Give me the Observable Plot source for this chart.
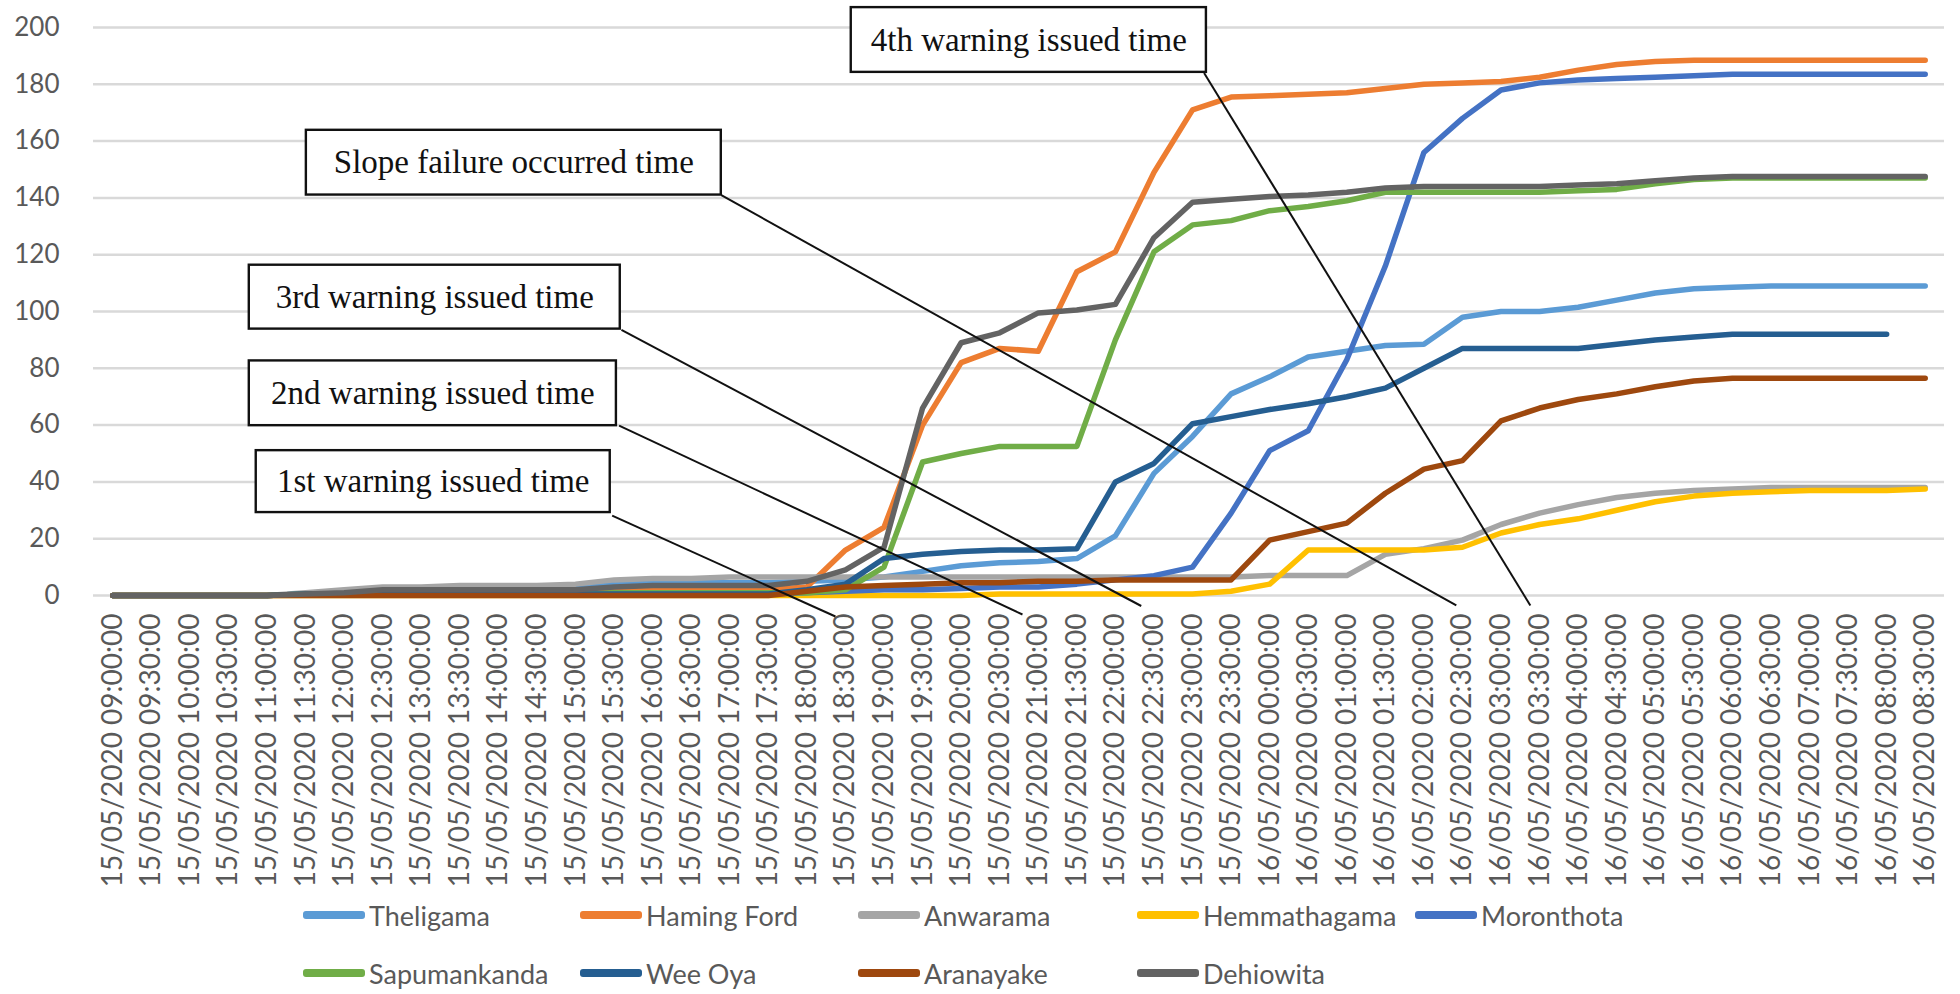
<!DOCTYPE html>
<html>
<head>
<meta charset="utf-8">
<script src="https://cdn.jsdelivr.net/npm/d3@7"></script>
<script src="https://cdn.jsdelivr.net/npm/@observablehq/plot@0.6"></script>
<style>
  html, body { margin: 0; padding: 0; background: #fff; }
  #wrap { position: relative; width: 1960px; height: 994px; overflow: hidden; font-family: Lato, "Open Sans", sans-serif; }
  #legend { position: absolute; left: 0; top: 0; width: 1960px; height: 994px; pointer-events: none; }
  .lg-item { position: absolute; display: flex; align-items: center; height: 40px; color: #595959; font-size: 27px; white-space: nowrap; }
  .lg-sw { width: 62px; height: 8px; border-radius: 3px; margin-right: 4px; }
</style>
</head>
<body>
<div id="wrap"><div id="chart"></div><div id="legend"></div></div>
<script>
// ---------------- data ----------------
const timeLabels = [
  "15/05/2020 09:00:00","15/05/2020 09:30:00","15/05/2020 10:00:00","15/05/2020 10:30:00",
  "15/05/2020 11:00:00","15/05/2020 11:30:00","15/05/2020 12:00:00","15/05/2020 12:30:00",
  "15/05/2020 13:00:00","15/05/2020 13:30:00","15/05/2020 14:00:00","15/05/2020 14:30:00",
  "15/05/2020 15:00:00","15/05/2020 15:30:00","15/05/2020 16:00:00","15/05/2020 16:30:00",
  "15/05/2020 17:00:00","15/05/2020 17:30:00","15/05/2020 18:00:00","15/05/2020 18:30:00",
  "15/05/2020 19:00:00","15/05/2020 19:30:00","15/05/2020 20:00:00","15/05/2020 20:30:00",
  "15/05/2020 21:00:00","15/05/2020 21:30:00","15/05/2020 22:00:00","15/05/2020 22:30:00",
  "15/05/2020 23:00:00","15/05/2020 23:30:00","16/05/2020 00:00:00","16/05/2020 00:30:00",
  "16/05/2020 01:00:00","16/05/2020 01:30:00","16/05/2020 02:00:00","16/05/2020 02:30:00",
  "16/05/2020 03:00:00","16/05/2020 03:30:00","16/05/2020 04:00:00","16/05/2020 04:30:00",
  "16/05/2020 05:00:00","16/05/2020 05:30:00","16/05/2020 06:00:00","16/05/2020 06:30:00",
  "16/05/2020 07:00:00","16/05/2020 07:30:00","16/05/2020 08:00:00","16/05/2020 08:30:00"
];

const seriesNames = ["Theligama","Haming Ford","Anwarama","Hemmathagama","Moronthota",
                     "Sapumankanda","Wee Oya","Aranayake","Dehiowita"];
const seriesColors = ["#5B9BD5","#ED7D31","#A5A5A5","#FFC000","#4472C4",
                      "#70AD47","#255E91","#9E480E","#636363"];

const theligama = [0,0,0,0,0,0.5,1,2,2,2,2,2,2.5,4.5,4.5,4.5,4.5,4.5,5,5.5,6.5,8.5,10.5,11.5,12,13,21,43,56,71,77,84,86,88,88.5,98,100,100,101.5,104,106.5,108,108.5,109,109,109,109,109];
const hamingFord = [0,0,0,0,0,0.5,1,1,1,1,1,1,1.5,2,2,2,2,2,3,16,24,60,82,87,86,114,121,149,171,175.5,176,176.5,177,178.5,180,180.5,181,182.5,185,187,188,188.5,188.5,188.5,188.5,188.5,188.5,188.5];
const anwarama = [0,0,0,0,0,1,2,3,3,3.5,3.5,3.5,4,5.5,6,6,6.5,6.5,6.5,6.5,6.5,6.5,6.5,6.5,6.5,6.5,6.5,6.5,6.5,6.5,7,7,7,14.5,16.5,19.5,25,29,32,34.5,36,37,37.5,38,38,38,38,38];
const hemmathagama = [0,0,0,0,0,0,0,0,0,0,0,0,0,0,0,0,0,0,0,0,0,0,0,0.5,0.5,0.5,0.5,0.5,0.5,1.5,4,16,16,16,16,17,22,25,27,30,33,35,36,36.5,37,37,37,37.5];
const moronthota = [0,0,0,0,0,0.5,0.5,0.5,0.5,0.5,0.5,0.5,0.5,0.5,0.5,0.5,0.5,0.5,1,1.5,2,2,2.5,3,3,4,5.5,7,10,29,51,58,83,116,156,168,178,180.5,181.5,182,182.5,183,183.5,183.5,183.5,183.5,183.5,183.5];
const sapumankanda = [0,0,0,0,0,0.5,0.5,0.5,0.5,0.5,0.5,0.5,0.5,1,1,1,1,1,1,2,10,47,50,52.5,52.5,52.5,90,121,130.5,132,135.5,137,139,142,142,142,142,142,142.5,143,145,146.5,147,147,147,147,147,147];
const weeOya = [0,0,0,0,0,0.5,0.5,0.5,0.5,0.5,0.5,0.5,0.5,0.5,0.5,0.5,0.5,0.5,2,4,13,14.5,15.5,16,16,16.5,40,46.5,60.5,63,65.5,67.5,70,73,80,87,87,87,87,88.5,90,91,92,92,92,92,92,null];
const aranayake = [0,0,0,0,0,0,0,0,0,0,0,0,0,0,0,0,0,0,1.5,3,3.5,4,4.5,4.5,5,5,5.5,5.5,5.5,5.5,19.5,22.5,25.5,36,44.5,47.5,61.5,66,69,71,73.5,75.5,76.5,76.5,76.5,76.5,76.5,76.5];
const dehiowita = [0,0,0,0,0,0.5,1,2,2,2,2,2,2,3,3.5,3.5,3.5,3.5,5,9,17,66,89,92.5,99.5,100.5,102.5,126,138.5,139.5,140.5,141,142,143.5,144,144,144,144,144.5,145,146,147,147.5,147.5,147.5,147.5,147.5,147.5];

const seriesValues = [theligama, hamingFord, anwarama, hemmathagama, moronthota,
                      sapumankanda, weeOya, aranayake, dehiowita];

const yTicks = [0,20,40,60,80,100,120,140,160,180,200];

// annotations (category index / value units)
const annText = ["1st warning issued time","2nd warning issued time","3rd warning issued time",
                 "Slope failure occurred time","4th warning issued time"];
const annBoxX1 = [3.72, 3.54, 3.54, 5.02, 19.15];
const annBoxX2 = [12.9, 13.06, 13.16, 15.78, 28.36];
const annBoxY1 = [29.2, 59.8, 93.8, 141, 184.2];
const annBoxY2 = [51, 82.6, 116.3, 163.8, 207];
const annArrowX1 = [12.95, 13.13, 13.19, 15.78, 28.3];
const annArrowY1 = [28.1, 59.8, 93.5, 141, 184];
const annArrowX2 = [18.74, 23.59, 26.67, 34.84, 36.76];
const annArrowY2 = [-7.4, -6.7, -3.7, -3.5, -3.5];

// ---------------- tables ----------------
const table = [];
seriesNames.forEach((name, s) => {
  seriesValues[s].forEach((v, i) => table.push({series: name, i, v}));
});
const ann = annText.map((t, k) => ({
  t, x1: annBoxX1[k], x2: annBoxX2[k], y1: annBoxY1[k], y2: annBoxY2[k],
  ax1: annArrowX1[k], ay1: annArrowY1[k], ax2: annArrowX2[k], ay2: annArrowY2[k]
}));

// ---------------- chart ----------------
const chart = Plot.plot({
  width: 1960,
  height: 900,
  marginLeft: 93,
  marginRight: 16,
  marginTop: 27,
  marginBottom: 305,
  style: {fontFamily: "Lato, 'Open Sans', sans-serif", background: "white", color: "#595959", overflow: "visible"},
  x: {domain: [-0.5, 47.5], axis: null},
  y: {domain: [0, 200], axis: null},
  color: {domain: seriesNames, range: seriesColors},
  marks: [
    Plot.ruleY(yTicks, {stroke: "#d9d9d9", strokeWidth: 2.5}),
    Plot.axisY(yTicks, {tickSize: 0, tickPadding: 34, fontSize: 26, label: null}),
    Plot.axisX(d3.range(timeLabels.length), {tickSize: 0, tickRotate: -90, tickPadding: 18, fontSize: 28,
      tickFormat: i => timeLabels[i], label: null}),
    Plot.line(table, {x: "i", y: "v", z: "series", stroke: "series", strokeWidth: 5.5,
      strokeLinejoin: "round", strokeLinecap: "round"}),
    Plot.link(ann, {x1: "ax1", y1: "ay1", x2: "ax2", y2: "ay2", stroke: "#111", strokeWidth: 2,
      ariaLabel: "annotation-arrows"}),
    Plot.rect(ann, {x1: "x1", x2: "x2", y1: "y1", y2: "y2", fill: "white", stroke: "#111", strokeWidth: 2.4}),
    Plot.text(ann, {x: d => (d.x1 + d.x2) / 2, y: d => (d.y1 + d.y2) / 2, text: "t", fill: "#111",
      fontSize: 33, fontFamily: "'Liberation Serif', 'DejaVu Serif', serif", textAnchor: "middle",
      ariaLabel: "annotation-text"})
  ]
});
document.getElementById("chart").appendChild(chart);

// filled triangular arrow heads
const svg = d3.select(chart);
const defs = svg.insert("defs", ":first-child");
defs.append("marker").attr("id", "ahead").attr("viewBox", "0 0 10 10")
  .attr("refX", 10).attr("refY", 5).attr("markerUnits", "userSpaceOnUse")
  .attr("markerWidth", 21).attr("markerHeight", 18).attr("orient", "auto")
  .append("path").attr("d", "M0,0L10,5L0,10Z").attr("fill", "#111");
svg.selectAll('g[aria-label="annotation-arrows"] path').attr("marker-end", "url(#ahead)");

// superscript ordinals
svg.selectAll('g[aria-label="annotation-text"] text').each(function() {
  const el = d3.select(this);
  const s = el.text();
  const m = s.match(/^(\d)(st|nd|rd|th)(.*)$/);
  if (!m) return;
  el.text(null);
  el.append("tspan").text(m[1]);
  el.append("tspan").attr("font-size", "60%").attr("dy", "-0.6em").text(m[2]);
  el.append("tspan").attr("dy", "0.6em").text(m[3]);
});

// legend (HTML, below the SVG)
const legendCols = [303, 580, 858, 1137, 1415];
const legendRows = [895, 953];
const legend = d3.select("#legend");
seriesNames.forEach((name, k) => {
  const row = k < 5 ? 0 : 1;
  const col = k < 5 ? k : k - 5;
  const item = legend.append("div").attr("class", "lg-item")
    .style("left", legendCols[col] + "px").style("top", legendRows[row] + "px");
  item.append("div").attr("class", "lg-sw").style("background", seriesColors[k]);
  item.append("span").text(name);
});
</script>
</body>
</html>
